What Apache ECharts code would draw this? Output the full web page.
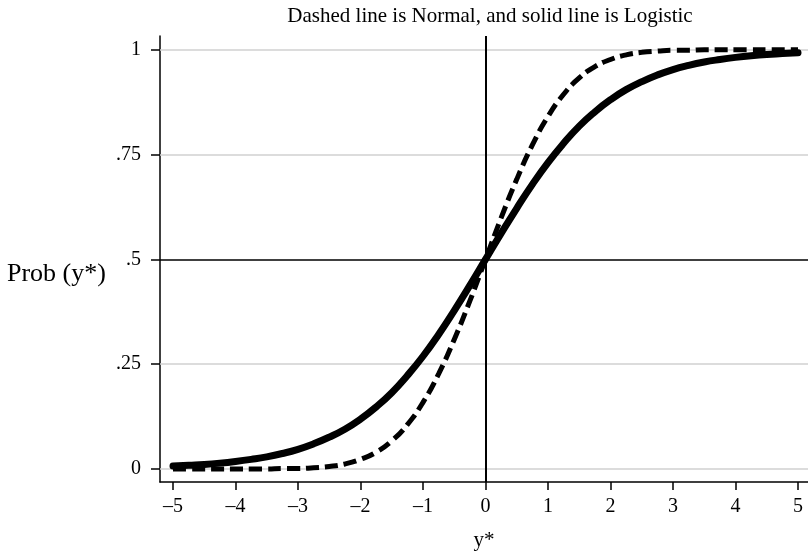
<!DOCTYPE html>
<html>
<head>
<meta charset="utf-8">
<script src="https://cdn.jsdelivr.net/npm/echarts@6/dist/echarts.min.js"></script>
<style>html,body{margin:0;padding:0;background:#fff}#c{width:808px;height:556px}</style>
</head>
<body>
<div id="c"></div>
<script>
var xValues = [-5,-4.75,-4.5,-4.25,-4,-3.75,-3.5,-3.25,-3,-2.75,-2.5,-2.25,-2,-1.75,-1.5,-1.25,-1,-0.75,-0.5,-0.25,0,0.25,0.5,0.75,1,1.25,1.5,1.75,2,2.25,2.5,2.75,3,3.25,3.5,3.75,4,4.25,4.5,4.75,5];
var normalValues = [0.000,0.000,0.000,0.000,0.000,0.000,0.000,0.001,0.001,0.003,0.006,0.012,0.023,0.040,0.067,0.106,0.159,0.227,0.309,0.401,0.500,0.599,0.691,0.773,0.841,0.894,0.933,0.960,0.977,0.988,0.994,0.997,0.999,0.999,1.000,1.000,1.000,1.000,1.000,1.000,1.000];
var logisticValues = [0.007,0.009,0.011,0.014,0.018,0.023,0.029,0.037,0.047,0.060,0.076,0.095,0.119,0.148,0.182,0.223,0.269,0.321,0.378,0.438,0.500,0.562,0.622,0.679,0.731,0.777,0.818,0.852,0.881,0.905,0.924,0.940,0.953,0.963,0.971,0.977,0.982,0.986,0.989,0.991,0.993];
var yTicks = [0,0.25,0.5,0.75,1];
var yTickLabels = ['0','.25','.5','.75','1'];
var xTicks = [-5,-4,-3,-2,-1,0,1,2,3,4,5];
var gridYs = [0,0.25,0.75,1];

var font = 'Liberation Serif';
function pairs(ys){ return xValues.map(function(x,i){return [x, ys[i]];}); }

var chart = echarts.init(document.getElementById('c'));
chart.setOption({
  animation: false,
  title: {text:'Dashed line is Normal, and solid line is Logistic', left: 485, top: 1, textAlign:'center',
    textStyle:{fontFamily:font, fontSize:21, fontWeight:'normal', color:'#000'}},
  grid: {left:160, right:0, top:36, bottom:73},
  xAxis: {type:'value', min:-5.208, max:5.16,
    name:'y*', nameLocation:'middle', nameGap:48,
    nameTextStyle:{fontFamily:font, fontSize:21, color:'#000'},
    axisLine:{show:true, onZero:false, lineStyle:{color:'#000', width:1.5}},
    axisTick:{show:true, length:8, lineStyle:{color:'#000', width:1.5}, customValues: xTicks},
    axisLabel:{fontFamily:font, fontSize:20, color:'#000', margin:15, customValues: xTicks,
      formatter:function(v){return v<0 ? '\u2013'+(-v) : String(v);}},
    splitLine:{show:false}},
  yAxis: {type:'value', min:-0.031, max:1.033,
    axisLine:{show:true, onZero:false, lineStyle:{color:'#000', width:1.5}},
    axisTick:{show:true, length:9, lineStyle:{color:'#000', width:1.5}, customValues: yTicks},
    axisLabel:{fontFamily:font, fontSize:20, color:'#000', margin:19, customValues: yTicks,
      formatter:function(v){var i = yTicks.indexOf(v); return i>=0 ? yTickLabels[i] : '';}},
    splitLine:{show:false}},
  graphic: [{type:'text', left:7, top:261, style:{text:'Prob (y*)', font:'26px "Liberation Serif"', fill:'#000', verticalAlign:'middle'}}],
  series: [
    {type:'line', data:[], silent:true, z:1,
      markLine:{silent:true, symbol:'none', label:{show:false}, z:1,
        lineStyle:{color:'#d0d0d0', width:1.5, type:'solid'},
        data: gridYs.map(function(y){return {yAxis:y};})
          .concat([{yAxis:0.5, lineStyle:{color:'#000', width:1.5}}, {xAxis:0, lineStyle:{color:'#000', width:2}}])}},
    {name:'Logistic', type:'line', data:pairs(logisticValues), smooth:true, showSymbol:false, z:3,
      lineStyle:{color:'#000', width:7, cap:'round'}},
    {name:'Normal', type:'line', data:pairs(normalValues), smooth:true, showSymbol:false, z:4,
      lineStyle:{color:'#000', width:5, type:[13,6], cap:'butt'}}
  ]
});
</script>
</body>
</html>
